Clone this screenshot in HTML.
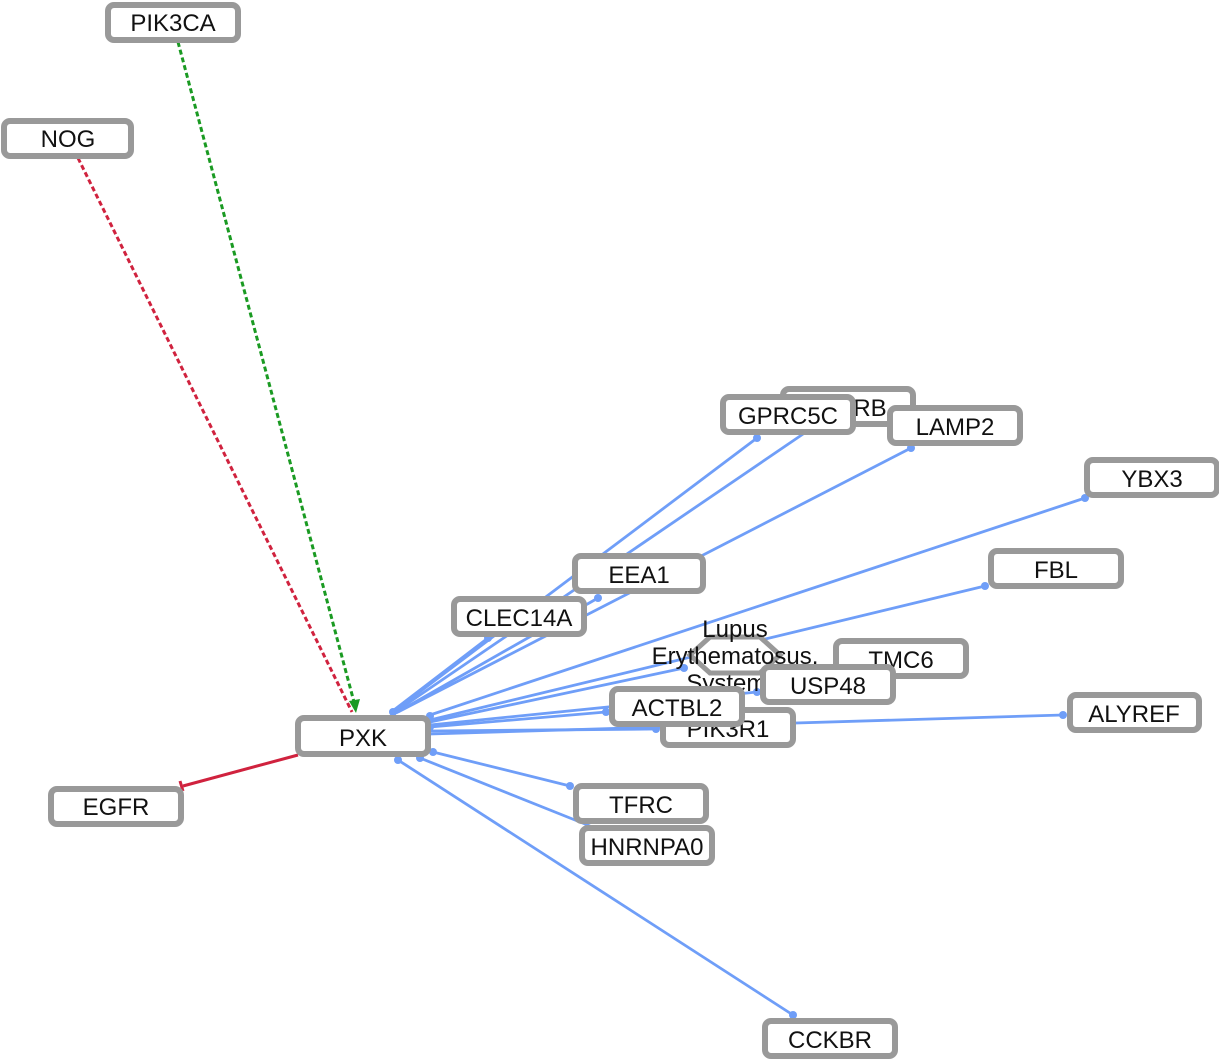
<!DOCTYPE html>
<html><head><meta charset="utf-8"><style>
html,body{margin:0;padding:0;background:#fff;}
svg{display:block;}
text{font-family:"Liberation Sans",sans-serif;font-size:24px;fill:#111;text-anchor:middle;}
.n{fill:#fff;stroke:#999;stroke-width:6;}
.b{stroke:#6f9ef8;stroke-width:2.8;fill:none;}
.d{fill:#6f9ef8;}
</style></head><body>
<svg width="1219" height="1060" viewBox="0 0 1219 1060">
<g class="b">
<line x1="393" y1="712" x2="757" y2="438"/>
<line x1="395" y1="712" x2="806" y2="432"/>
<line x1="398" y1="712" x2="911" y2="448"/>
<line x1="390" y1="713" x2="488" y2="638"/>
<line x1="396" y1="713" x2="598" y2="598"/>
<line x1="430" y1="715" x2="1085" y2="498"/>
<line x1="430" y1="720" x2="985" y2="586"/>
<line x1="430" y1="722" x2="684" y2="668"/>
<line x1="430" y1="725" x2="757" y2="692"/>
<line x1="430" y1="727" x2="606" y2="712"/>
<line x1="430" y1="731" x2="656" y2="729"/>
<line x1="430" y1="734" x2="1063" y2="715"/>
<line x1="433" y1="752" x2="570" y2="786"/>
<line x1="420" y1="758" x2="590" y2="826"/>
<line x1="398" y1="760" x2="793" y2="1015"/>
</g>
<g class="d">
<circle cx="757" cy="438" r="4"/><circle cx="911" cy="448" r="4"/><circle cx="488" cy="638" r="4"/><circle cx="598" cy="598" r="4"/>
<circle cx="1085" cy="498" r="4"/><circle cx="985" cy="586" r="4"/><circle cx="684" cy="668" r="4"/><circle cx="757" cy="692" r="4"/>
<circle cx="606" cy="712" r="4"/><circle cx="656" cy="729" r="4"/><circle cx="1063" cy="715" r="4"/><circle cx="570" cy="786" r="4"/>
<circle cx="793" cy="1015" r="4"/><circle cx="393" cy="712" r="4"/><circle cx="430" cy="716" r="4"/><circle cx="430" cy="727" r="4"/>
<circle cx="433" cy="752" r="4"/><circle cx="420" cy="758" r="4"/><circle cx="398" cy="760" r="4"/>
</g>
<line x1="78" y1="158" x2="352" y2="712" stroke="#d0223e" stroke-width="3" stroke-dasharray="5,3"/>
<line x1="178" y1="42" x2="354" y2="702" stroke="#1a9a22" stroke-width="3" stroke-dasharray="5,3"/>
<polygon points="356,713 349,701 360,699" fill="#1a9a22"/>
<line x1="298" y1="755" x2="183" y2="786" stroke="#d0223e" stroke-width="3"/>
<line x1="180" y1="781" x2="183" y2="791" stroke="#d0223e" stroke-width="3"/>
<g>
<rect class="n" x="108" y="5" width="130" height="35" rx="6"/><text x="173" y="31">PIK3CA</text>
<rect class="n" x="4" y="121" width="127" height="35" rx="6"/><text x="68" y="147">NOG</text>
<rect class="n" x="51" y="789" width="130" height="35" rx="6"/><text x="116" y="815">EGFR</text>
<rect class="n" x="783" y="389" width="130" height="35" rx="6"/><text x="870" y="416">RB</text>
<rect class="n" x="723" y="397" width="130" height="35" rx="6"/><text x="788" y="424">GPRC5C</text>
<rect class="n" x="890" y="408" width="130" height="35" rx="6"/><text x="955" y="435">LAMP2</text>
<rect class="n" x="1087" y="460" width="130" height="35" rx="6"/><text x="1152" y="487">YBX3</text>
<rect class="n" x="991" y="551" width="130" height="35" rx="6"/><text x="1056" y="578">FBL</text>
<rect class="n" x="575" y="556" width="128" height="35" rx="6"/><text x="639" y="583">EEA1</text>
<rect class="n" x="454" y="599" width="130" height="35" rx="6"/><text x="519" y="626">CLEC14A</text>
<polygon points="690,655 710,637 760,637 780,655 760,673 710,673" fill="#fff" stroke="#999" stroke-width="5"/>
<text x="735" y="637">Lupus</text><text x="735" y="664">Erythematosus,</text><text x="735" y="691">Systemic</text>
<rect class="n" x="836" y="641" width="130" height="35" rx="6"/><text x="901" y="668">TMC6</text>
<rect class="n" x="763" y="667" width="130" height="35" rx="6"/><text x="828" y="694">USP48</text>
<rect class="n" x="663" y="710" width="130" height="35" rx="6"/><text x="728" y="737">PIK3R1</text>
<rect class="n" x="612" y="689" width="130" height="35" rx="6"/><text x="677" y="716">ACTBL2</text>
<rect class="n" x="1070" y="695" width="129" height="35" rx="6"/><text x="1134" y="722">ALYREF</text>
<rect class="n" x="298" y="718" width="130" height="36" rx="6"/><text x="363" y="746">PXK</text>
<rect class="n" x="576" y="786" width="130" height="35" rx="6"/><text x="641" y="813">TFRC</text>
<rect class="n" x="582" y="828" width="130" height="35" rx="6"/><text x="647" y="855">HNRNPA0</text>
<rect class="n" x="765" y="1021" width="130" height="35" rx="6"/><text x="830" y="1048">CCKBR</text>
</g>
</svg>
</body></html>
